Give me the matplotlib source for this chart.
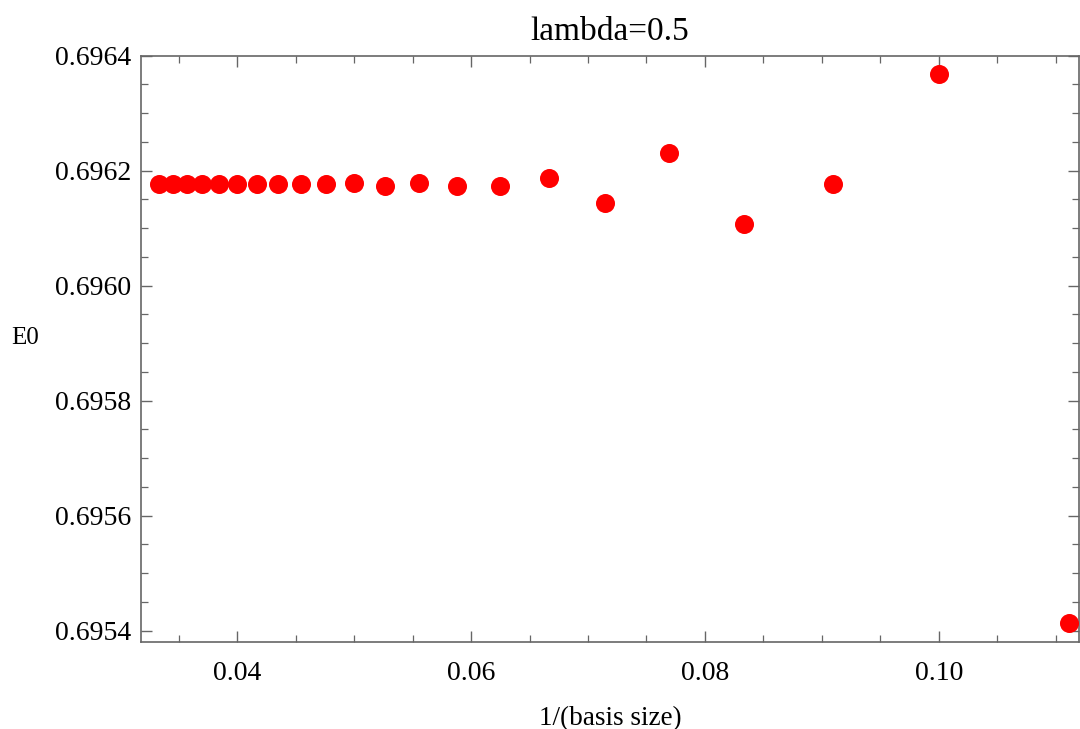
import matplotlib
matplotlib.use("Agg")
import matplotlib.pyplot as plt
from matplotlib.ticker import MultipleLocator, FormatStrFormatter

# Data: basis sizes and ground-state energies
basis_size = [30, 29, 28, 27, 26, 25, 24, 23, 22, 21, 20, 19, 18, 17, 16, 15, 14, 13, 12, 11, 10, 9]
E0 = [0.696176, 0.696176, 0.696176, 0.696176, 0.696176, 0.696176, 0.696176, 0.696176,
      0.696176, 0.696176, 0.696178, 0.696174, 0.696178, 0.696173, 0.696173, 0.696187,
      0.696144, 0.696230, 0.696107, 0.696177, 0.696368, 0.695413]
inv_size = [1.0 / n for n in basis_size]

title = "lambda=0.5"
xlabel = "1/(basis size)"
ylabel = "E0"
xticks = [0.04, 0.06, 0.08, 0.10]
yticks = [0.6954, 0.6956, 0.6958, 0.6960, 0.6962, 0.6964]

plt.rcParams['font.family'] = ['Liberation Serif', 'DejaVu Serif']

fig = plt.figure(figsize=(10.8, 7.29), dpi=100)
ax = fig.add_axes([141/1080, 1 - 642/729, (1079 - 141)/1080, (642 - 55.7)/729])

ax.plot(inv_size, E0, 'o', color='#ff0000', markersize=13.7, markeredgewidth=0, clip_on=False, zorder=3)

ax.set_xlim(0.03179, 0.11197)
ax.set_ylim(0.69538, 0.6964)
ax.set_xticks(xticks)
ax.set_yticks(yticks)
ax.xaxis.set_major_formatter(FormatStrFormatter('%.2f'))
ax.yaxis.set_major_formatter(FormatStrFormatter('%.4f'))
ax.xaxis.set_minor_locator(MultipleLocator(0.005))
ax.yaxis.set_minor_locator(MultipleLocator(0.00005))

gray = '#666666'
for s in ax.spines.values():
    s.set_color(gray)
    s.set_linewidth(1.2)
ax.tick_params(which='both', direction='in', top=True, right=True, color=gray,
               labelsize=20, labelcolor='black')
ax.tick_params(which='major', length=8, width=1.0)
ax.tick_params(which='minor', length=5, width=0.9)
ax.tick_params(axis='x', which='major', pad=14)
ax.tick_params(axis='y', which='major', pad=7)

ax.set_title(title, fontsize=24, pad=11)
ax.set_xlabel(xlabel, fontsize=19.5, labelpad=14)
ax.set_ylabel(ylabel, fontsize=18, rotation=0, labelpad=0)
ax.yaxis.set_label_coords(-116/938, 0.5)

fig.savefig("out.png", dpi=100)
